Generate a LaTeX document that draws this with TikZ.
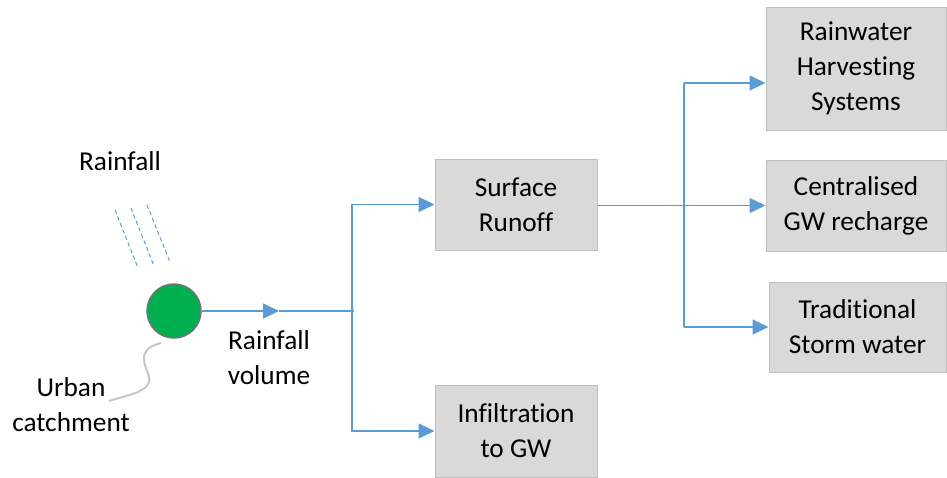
\documentclass[tikz,border=0pt]{standalone}
\usepackage{fontspec}
\setmainfont[Ligatures=NoCommon]{Carlito}
\usetikzlibrary{arrows.meta}
\definecolor{flowblue}{HTML}{5B9BD5}
\definecolor{boxfill}{HTML}{D9D9D9}
\definecolor{boxline}{HTML}{BFBFBF}
\definecolor{catch}{HTML}{00B050}
\begin{document}
\begin{tikzpicture}[x=1pt,y=-1pt,
  every node/.style={font=\fontsize{27.3}{35}\selectfont, align=center, inner sep=0pt},
  procbox/.style={draw=boxline, fill=boxfill, line width=1pt},
  flowline/.style={draw=flowblue, line width=1.2pt},
  flowarrow/.style={flowline, -{Triangle[length=16pt,width=15pt]}},
  raindrop/.style={draw=flowblue, line width=1pt, dash pattern=on 4pt off 3pt}
]
\useasboundingbox (0,0) rectangle (947,477);
% labels
\node (rain) at (120,161) {Rainfall};
\node (vol) at (269,358) {Rainfall\\volume};
\node (urb) at (71,405) {Urban\\catchment};
% rain lines
\draw[raindrop] (115,210) -- (138,268);
\draw[raindrop] (131,208) -- (154,266);
\draw[raindrop] (147,205) -- (170,262);
% catchment
\node[circle, draw=gray!90!black, line width=1.5pt, fill=catch, minimum size=54pt] (c) at (174,311) {};
\coordinate (s1) at (161,343);
\coordinate (s2) at (109,401);
\draw[gray!45, line width=2pt] (s1) .. controls (140,348) and (142,360) .. (148,373) .. controls (155,392) and (130,394) .. (s2);
% boxes
\node[procbox, minimum width=162pt, minimum height=91pt] (sr) at (516,204.5) {Surface\\Runoff};
\node[procbox, minimum width=162pt, minimum height=92pt] (inf) at (516,431) {Infiltration\\to GW};
\node[procbox, minimum width=180pt, minimum height=123pt] (rw) at (856,68.5) {Rainwater\\Harvesting\\Systems};
\node[procbox, minimum width=180pt, minimum height=91pt] (cg) at (856,205.5) {Centralised\\GW recharge};
\node[procbox, minimum width=177pt, minimum height=90pt] (ts) at (857.5,327) {Traditional\\Storm water};
% main flow
\coordinate (mid) at (279,311);
\coordinate (j1) at (354,311);
\draw[flowarrow, line width=2pt] (c) -- (mid);
\draw[flowline, line width=2pt] (mid) -- (j1);
\coordinate (j1v) at (352,311);
\draw[flowarrow] (j1v) |- (sr.west);
\draw[flowarrow] (j1v) |- (inf.west);
% right branching
\draw[flowarrow] (sr.east |- cg.west) -- (cg.west);
\coordinate (j2top) at (684,83);
\coordinate (j2bot) at (684,327);
\draw[flowline] (j2top) -- (j2bot);
\draw[flowarrow] (j2top) -- (rw.west |- j2top);
\draw[flowarrow] (j2bot) -- (ts.west);
\end{tikzpicture}
\end{document}
